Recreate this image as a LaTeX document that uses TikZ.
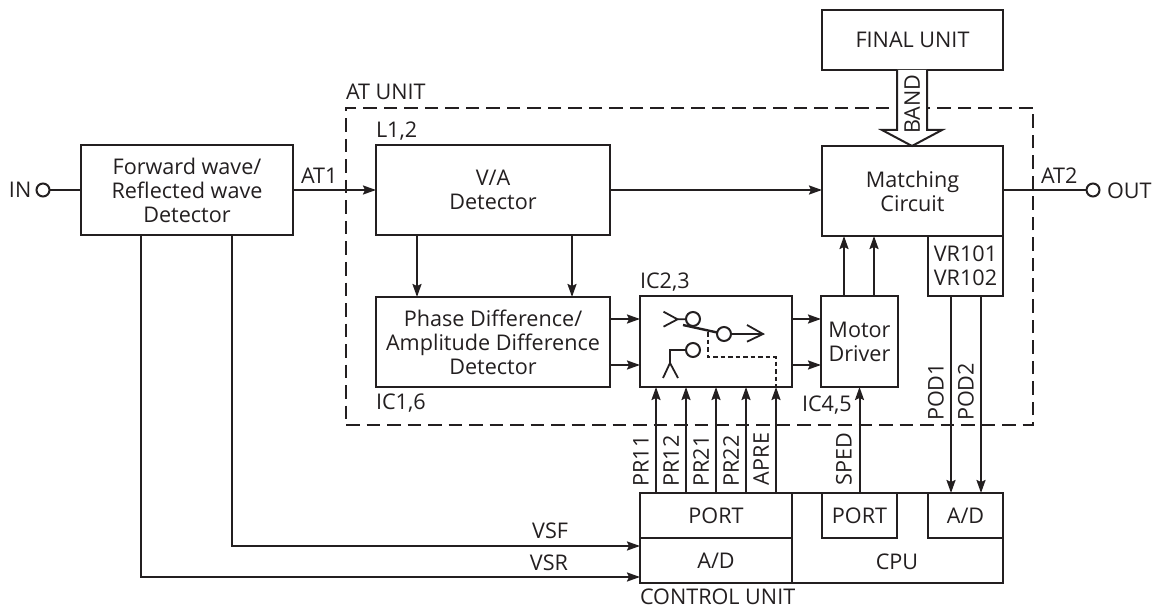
\documentclass[tikz,border=0pt]{standalone}
\usepackage{fontspec}
\setmainfont{Open Sans}
\usetikzlibrary{arrows.meta}
\definecolor{ink}{HTML}{231F20}
\tikzset{
 x=1pt,y=-1pt,
 every node/.style={text=ink,font=\fontsize{21.6}{24}\selectfont,inner sep=0pt,outer sep=0pt},
 blk/.style={draw=ink,line width=2.7pt,anchor=north west,align=center,fill=white},
 txt/.style={align=center},
 rot/.style={rotate=90},
 term/.style={draw=ink,line width=2pt,circle,minimum size=13pt,fill=white},
 wire/.style={draw=ink,line width=2pt},
 arr/.style={wire,-{Stealth[length=13pt,width=9pt,inset=2pt]}},
 dashbox/.style={draw=ink,line width=2.8pt,dash pattern=on 13.5pt off 7pt},
 thin dashes/.style={draw=ink,line width=1.3pt,dash pattern=on 4.5pt off 3pt},
 sym/.style={draw=ink,line width=1.8pt},
}
\newcommand{\blk}[7]{\node[blk,minimum width=#3pt,minimum height=#4pt,#6] (#5) at (#1,#2) {#7};}
\begin{document}
\begin{tikzpicture}
\useasboundingbox (0,0) rectangle (1155,609);
% AT unit frame
\node[dashbox,anchor=north west,minimum width=687pt,minimum height=317pt] (atunit) at (346,108) {};
% main blocks
\blk{81}{145}{212}{90}{fw}{}{Forward wave/\\Reflected wave\\Detector}
\blk{376}{145}{234}{90}{va}{}{V/A\\Detector}
\blk{376}{297}{234}{90}{phase}{}{Phase Difference/\\Amplitude Difference\\Detector}
\blk{640}{296}{152}{91}{sw}{}{}
\blk{821}{296}{77}{91}{motor}{}{Motor\\Driver}
\blk{822}{10}{181}{60}{final}{}{FINAL UNIT}
\blk{822}{146}{181}{90}{match}{}{Matching\\Circuit}
\blk{928}{236}{75}{60}{vr}{}{VR101\\VR102}
% control unit
\blk{640}{493}{152}{45}{portA}{}{PORT}
\blk{640}{538}{152}{45}{adA}{}{A/D}
\blk{792}{493}{211}{90}{cpu}{}{}
\blk{822}{493}{75}{45}{portB}{}{PORT}
\blk{928}{493}{75}{45}{adB}{}{A/D}
\node[txt] (cpulabel) at (897,562) {CPU};
% terminals
\node[term] (in) at (43,190) {};
\node[term] (out) at (1093,190) {};
\draw[wire] (in) -- (fw.west);
\draw[wire] (match.east |- out) -- (out);
% signal path
\draw[arr] (fw.east) -- (va.west);
\draw[arr] (va.east) -- (va.east -| match.west);
\draw[arr] ([xshift=41pt]va.south west) -- ([xshift=41pt]phase.north west);
\draw[arr] ([xshift=196pt]va.south west) -- ([xshift=196pt]phase.north west);
\coordinate (ya) at (0,319);
\coordinate (yb) at (0,365);
\draw[arr] (phase.east |- ya) -- (sw.west |- ya);
\draw[arr] (phase.east |- yb) -- (sw.west |- yb);
\draw[arr] (sw.east |- ya) -- (motor.west |- ya);
\draw[arr] (sw.east |- yb) -- (motor.west |- yb);
\draw[arr] ([xshift=23pt]motor.north west) -- ([xshift=22pt]match.south west);
\draw[arr] ([xshift=53pt]motor.north west) -- ([xshift=52pt]match.south west);
% control signals
\foreach \d in {16,46,76,106,136}
  \draw[arr] ([xshift=\d pt]portA.north west) -- ([xshift=\d pt]sw.south west);
\draw[arr] (portB.north) -- (portB.north |- motor.south);
\draw[arr] ([xshift=23pt]vr.south west) -- ([xshift=23pt]adB.north west);
\draw[arr] ([xshift=53pt]vr.south west) -- ([xshift=53pt]adB.north west);
\coordinate (vsf) at (232,546);
\coordinate (vsr) at (141,577);
\draw[arr] (vsf |- fw.south) -- (vsf) -- (vsf -| adA.west);
\draw[arr] (vsr |- fw.south) -- (vsr) -- (vsr -| adA.west);
% band arrow
\filldraw[fill=white,draw=ink,line width=2pt,line join=miter]
 ([xshift=75pt]final.south west) -- ([xshift=75pt,yshift=-60pt]final.south west)
 -- ([xshift=60pt,yshift=-60pt]final.south west) -- ([xshift=90pt]match.north west)
 -- ([xshift=120pt,yshift=-60pt]final.south west) -- ([xshift=105pt,yshift=-60pt]final.south west)
 -- ([xshift=105pt]final.south west);
\node[rot] (band) at (912,104) {BAND};
% switch symbol
\node[term,minimum size=14pt] (s1) at (693,319) {};
\node[term,minimum size=14pt] (s2) at (724,334) {};
\node[term,minimum size=14pt] (s3) at (693,350) {};
\draw[sym] (663.5,311.7) -- (677.5,319.3) -- (663.5,326.7);
\draw[sym] (677.5,319.3) -- (s1);
\draw[sym,line width=2.4pt] (683,325) -- (s2);
\draw[sym] (s2) -- (763,334);
\draw[sym] (747,325) -- (763,334) -- (747,341.7);
\draw[sym] (s3) -- (670,350) -- (670,363);
\draw[sym] (663,378) -- (670,363) -- (678,378);
\draw[thin dashes] (708,332) -- (708,357) -- (776,357) -- ([xshift=136pt]sw.south west);
% labels
\node[anchor=west] (lin) at (9,190) {IN};
\node[anchor=west] (lout) at (1107,191) {OUT};
\node[anchor=west] (lat1) at (301,176) {AT1};
\node[anchor=west] (lat2) at (1041,176) {AT2};
\node[anchor=west] (lat) at (346,92) {AT UNIT};
\node[anchor=west] (l12) at (376,131) {L1,2};
\node[anchor=west] (lic23) at (640,282) {IC2,3};
\node[anchor=west] (lic16) at (376,403) {IC1,6};
\node[anchor=west] (lic45) at (802,405) {IC4,5};
\node[anchor=west] (lctl) at (640,597) {CONTROL UNIT};
\node[anchor=east] (lvsf) at (568,531) {VSF};
\node[anchor=east] (lvsr) at (568,563) {VSR};
\node[rot] (pr11) at (641,461) {PR11};
\node[rot] (pr12) at (671,461) {PR12};
\node[rot] (pr21) at (701,461) {PR21};
\node[rot] (pr22) at (731,461) {PR22};
\node[rot] (apre) at (761,459) {APRE};
\node[rot] (sped) at (844,459) {SPED};
\node[rot] (pod1) at (936,392) {POD1};
\node[rot] (pod2) at (966,392) {POD2};
\end{tikzpicture}
\end{document}
